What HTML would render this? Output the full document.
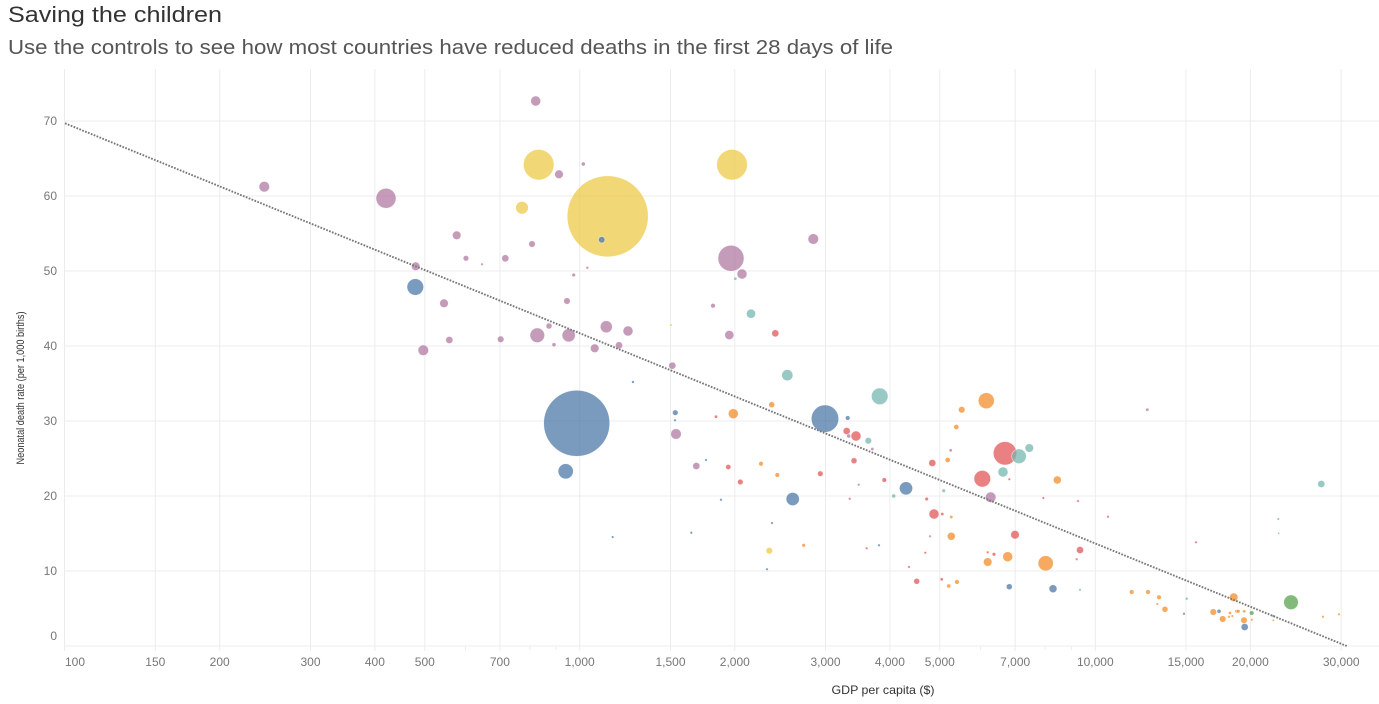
<!DOCTYPE html>
<html><head><meta charset="utf-8"><style>
html,body{margin:0;padding:0;background:#fff;}
svg{display:block;font-family:"Liberation Sans",Arial,sans-serif;}
</style></head><body>
<svg width="1379" height="704" viewBox="0 0 1379 704" xmlns="http://www.w3.org/2000/svg">
<rect width="1379" height="704" fill="#fff"/>
<text x="8" y="22" font-size="22" fill="#333" textLength="214" lengthAdjust="spacingAndGlyphs">Saving the children</text>
<text x="8" y="54" font-size="20" fill="#555" textLength="885" lengthAdjust="spacingAndGlyphs">Use the controls to see how most countries have reduced deaths in the first 28 days of life</text>
<g stroke="#ececec" stroke-width="1">
<line x1="64.5" y1="121" x2="1379" y2="121"/>
<line x1="64.5" y1="196" x2="1379" y2="196"/>
<line x1="64.5" y1="271" x2="1379" y2="271"/>
<line x1="64.5" y1="346" x2="1379" y2="346"/>
<line x1="64.5" y1="421" x2="1379" y2="421"/>
<line x1="64.5" y1="496" x2="1379" y2="496"/>
<line x1="64.5" y1="571" x2="1379" y2="571"/>
<line x1="64.5" y1="646" x2="1379" y2="646"/>
<line x1="64.5" y1="69" x2="64.5" y2="651"/>
<line x1="155.3" y1="69" x2="155.3" y2="651"/>
<line x1="219.7" y1="69" x2="219.7" y2="651"/>
<line x1="310.5" y1="69" x2="310.5" y2="651"/>
<line x1="374.9" y1="69" x2="374.9" y2="651"/>
<line x1="424.8" y1="69" x2="424.8" y2="651"/>
<line x1="499.9" y1="69" x2="499.9" y2="651"/>
<line x1="579.7" y1="69" x2="579.7" y2="651"/>
<line x1="670.5" y1="69" x2="670.5" y2="651"/>
<line x1="734.8" y1="69" x2="734.8" y2="651"/>
<line x1="825.5" y1="69" x2="825.5" y2="651"/>
<line x1="889.9" y1="69" x2="889.9" y2="651"/>
<line x1="939.8" y1="69" x2="939.8" y2="651"/>
<line x1="1015.2" y1="69" x2="1015.2" y2="651"/>
<line x1="1095.3" y1="69" x2="1095.3" y2="651"/>
<line x1="1186" y1="69" x2="1186" y2="651"/>
<line x1="1250.4" y1="69" x2="1250.4" y2="651"/>
<line x1="1341.2" y1="69" x2="1341.2" y2="651"/>
<line x1="465.5" y1="646" x2="465.5" y2="650"/>
<line x1="529.8" y1="646" x2="529.8" y2="650"/>
<line x1="556.2" y1="646" x2="556.2" y2="650"/>
<line x1="980.6" y1="646" x2="980.6" y2="650"/>
<line x1="1045" y1="646" x2="1045" y2="650"/>
<line x1="1071.3" y1="646" x2="1071.3" y2="650"/>
</g>
<g font-size="12" fill="#777" text-anchor="end">
<text x="57" y="125">70</text>
<text x="57" y="200">60</text>
<text x="57" y="275">50</text>
<text x="57" y="350">40</text>
<text x="57" y="425">30</text>
<text x="57" y="500">20</text>
<text x="57" y="575">10</text>
<text x="57" y="640">0</text>
</g>
<g font-size="12" fill="#777" text-anchor="middle">
<text x="75" y="666">100</text>
<text x="155.3" y="666">150</text>
<text x="219.7" y="666">200</text>
<text x="310.5" y="666">300</text>
<text x="374.9" y="666">400</text>
<text x="424.8" y="666">500</text>
<text x="499.9" y="666">700</text>
<text x="579.7" y="666">1,000</text>
<text x="670.5" y="666">1,500</text>
<text x="734.8" y="666">2,000</text>
<text x="825.5" y="666">3,000</text>
<text x="889.9" y="666">4,000</text>
<text x="939.8" y="666">5,000</text>
<text x="1015.2" y="666">7,000</text>
<text x="1095.3" y="666">10,000</text>
<text x="1186" y="666">15,000</text>
<text x="1250.4" y="666">20,000</text>
<text x="1341.2" y="666">30,000</text>
</g>
<text x="883" y="694" font-size="12" fill="#333" text-anchor="middle" textLength="103" lengthAdjust="spacingAndGlyphs">GDP per capita ($)</text>
<text transform="translate(24,388) rotate(-90)" font-size="11" fill="#333" text-anchor="middle" textLength="153" lengthAdjust="spacingAndGlyphs">Neonatal death rate (per 1,000 births)</text>

<g stroke="#fff" stroke-width="0.6" stroke-opacity="0.7" fill-opacity="0.75">
<circle cx="607.7" cy="216.3" r="40.5" fill="#EDC948"/>
<circle cx="576.7" cy="423.3" r="33" fill="#4E79A7"/>
<circle cx="538.7" cy="164.7" r="15.3" fill="#EDC948"/>
<circle cx="732" cy="164.7" r="15.3" fill="#EDC948"/>
<circle cx="825" cy="418.7" r="13.7" fill="#4E79A7"/>
<circle cx="731" cy="258.3" r="13" fill="#B07AA1"/>
<circle cx="1005" cy="453.3" r="11.7" fill="#E15759"/>
<circle cx="386" cy="198.3" r="10" fill="#B07AA1"/>
<circle cx="415.3" cy="287" r="8.3" fill="#4E79A7"/>
<circle cx="879.7" cy="396.3" r="8.3" fill="#76B7B2"/>
<circle cx="982.3" cy="478.7" r="8.3" fill="#E15759"/>
<circle cx="986.3" cy="400.7" r="8" fill="#F28E2B"/>
<circle cx="565.7" cy="471.3" r="7.6" fill="#4E79A7"/>
<circle cx="1045.7" cy="563.3" r="7.6" fill="#F28E2B"/>
<circle cx="537.3" cy="335.3" r="7.3" fill="#B07AA1"/>
<circle cx="1019" cy="456.3" r="7.3" fill="#76B7B2"/>
<circle cx="1291" cy="602.3" r="7.3" fill="#59A14F"/>
<circle cx="568.7" cy="335.3" r="6.6" fill="#B07AA1"/>
<circle cx="792.7" cy="499" r="6.6" fill="#4E79A7"/>
<circle cx="906" cy="488.3" r="6.6" fill="#4E79A7"/>
<circle cx="522" cy="207.7" r="6.3" fill="#EDC948"/>
<circle cx="606.3" cy="326.7" r="6" fill="#B07AA1"/>
<circle cx="264.3" cy="186.7" r="5.3" fill="#B07AA1"/>
<circle cx="423.3" cy="350.3" r="5.3" fill="#B07AA1"/>
<circle cx="813.3" cy="239" r="5.3" fill="#B07AA1"/>
<circle cx="676" cy="434" r="5.3" fill="#B07AA1"/>
<circle cx="990.7" cy="497.3" r="5.3" fill="#B07AA1"/>
<circle cx="787.3" cy="375.2" r="5.6" fill="#76B7B2"/>
<circle cx="535.7" cy="101" r="5" fill="#B07AA1"/>
<circle cx="742" cy="274" r="5" fill="#B07AA1"/>
<circle cx="628" cy="331" r="5" fill="#B07AA1"/>
<circle cx="733.3" cy="413.7" r="5" fill="#F28E2B"/>
<circle cx="856" cy="436" r="5" fill="#E15759"/>
<circle cx="934" cy="514" r="5" fill="#E15759"/>
<circle cx="1003" cy="472" r="5" fill="#76B7B2"/>
<circle cx="1007.7" cy="556.7" r="5" fill="#F28E2B"/>
<circle cx="751" cy="313.7" r="4.6" fill="#76B7B2"/>
<circle cx="729.3" cy="335" r="4.6" fill="#B07AA1"/>
<circle cx="456.7" cy="235.3" r="4.3" fill="#B07AA1"/>
<circle cx="415.7" cy="266.3" r="4.3" fill="#B07AA1"/>
<circle cx="444" cy="303.3" r="4.3" fill="#B07AA1"/>
<circle cx="559" cy="174.3" r="4.3" fill="#B07AA1"/>
<circle cx="594.7" cy="348.3" r="4.3" fill="#B07AA1"/>
<circle cx="1029.3" cy="448" r="4.3" fill="#76B7B2"/>
<circle cx="1015" cy="534.7" r="4.3" fill="#E15759"/>
<circle cx="987.7" cy="562" r="4.3" fill="#F28E2B"/>
<circle cx="1233.7" cy="597.3" r="4.3" fill="#F28E2B"/>
<circle cx="951.3" cy="536.3" r="4" fill="#F28E2B"/>
<circle cx="1057.3" cy="480" r="4" fill="#F28E2B"/>
<circle cx="1053" cy="588.7" r="4" fill="#4E79A7"/>
<circle cx="505.3" cy="258.3" r="3.6" fill="#B07AA1"/>
<circle cx="449.3" cy="340" r="3.6" fill="#B07AA1"/>
<circle cx="619" cy="345.3" r="3.6" fill="#B07AA1"/>
<circle cx="672.3" cy="365.7" r="3.6" fill="#B07AA1"/>
<circle cx="775.3" cy="333.3" r="3.6" fill="#E15759"/>
<circle cx="846.7" cy="431" r="3.6" fill="#E15759"/>
<circle cx="696.3" cy="466" r="3.6" fill="#B07AA1"/>
<circle cx="932.3" cy="463" r="3.6" fill="#E15759"/>
<circle cx="1080" cy="550" r="3.6" fill="#E15759"/>
<circle cx="1244.7" cy="627" r="3.6" fill="#4E79A7"/>
<circle cx="1321.3" cy="484" r="3.6" fill="#76B7B2"/>
<circle cx="500.7" cy="339.3" r="3.3" fill="#B07AA1"/>
<circle cx="601.7" cy="239.7" r="3.3" fill="#4E79A7"/>
<circle cx="532" cy="244" r="3.3" fill="#B07AA1"/>
<circle cx="567" cy="301" r="3.3" fill="#B07AA1"/>
<circle cx="868.3" cy="440.7" r="3.3" fill="#76B7B2"/>
<circle cx="769.3" cy="550.7" r="3.3" fill="#EDC948"/>
<circle cx="961.7" cy="409.7" r="3.3" fill="#F28E2B"/>
<circle cx="1213.3" cy="612" r="3.3" fill="#F28E2B"/>
<circle cx="1222.7" cy="619" r="3.3" fill="#F28E2B"/>
<circle cx="1244" cy="620.3" r="3.3" fill="#F28E2B"/>
<circle cx="549" cy="326" r="3" fill="#B07AA1"/>
<circle cx="854" cy="460.7" r="3" fill="#E15759"/>
<circle cx="771.7" cy="404.7" r="3" fill="#F28E2B"/>
<circle cx="916.7" cy="581.3" r="3" fill="#E15759"/>
<circle cx="1009.3" cy="586.7" r="3" fill="#4E79A7"/>
<circle cx="1165" cy="609.3" r="3" fill="#F28E2B"/>
<circle cx="466" cy="258.3" r="2.8" fill="#B07AA1"/>
<circle cx="675.3" cy="412.7" r="2.8" fill="#4E79A7"/>
<circle cx="740.3" cy="482" r="2.8" fill="#E15759"/>
<circle cx="820.3" cy="473.7" r="2.8" fill="#E15759"/>
<circle cx="728.3" cy="467" r="2.6" fill="#E15759"/>
<circle cx="947.7" cy="460" r="2.6" fill="#F28E2B"/>
<circle cx="956.3" cy="427" r="2.6" fill="#F28E2B"/>
<circle cx="713" cy="305.7" r="2.3" fill="#B07AA1"/>
<circle cx="847.7" cy="418" r="2.3" fill="#4E79A7"/>
<circle cx="761" cy="463.7" r="2.3" fill="#F28E2B"/>
<circle cx="777.3" cy="475" r="2.3" fill="#F28E2B"/>
<circle cx="884.3" cy="480" r="2.3" fill="#E15759"/>
<circle cx="957" cy="582" r="2.3" fill="#F28E2B"/>
<circle cx="1131.7" cy="592" r="2.3" fill="#F28E2B"/>
<circle cx="1148" cy="592" r="2.3" fill="#F28E2B"/>
<circle cx="1159" cy="597.3" r="2.3" fill="#F28E2B"/>
<circle cx="1251.7" cy="613" r="2.3" fill="#59A14F"/>
<circle cx="583.3" cy="164" r="2" fill="#B07AA1"/>
<circle cx="554" cy="344.7" r="2" fill="#B07AA1"/>
<circle cx="848.7" cy="436" r="2" fill="#B07AA1"/>
<circle cx="893.7" cy="496" r="2" fill="#76B7B2"/>
<circle cx="948.7" cy="586" r="2" fill="#F28E2B"/>
<circle cx="1219" cy="611.3" r="2" fill="#4E79A7"/>
<circle cx="573.7" cy="275" r="1.8" fill="#B07AA1"/>
<circle cx="803.7" cy="545.3" r="1.8" fill="#F28E2B"/>
<circle cx="943.7" cy="490.7" r="1.8" fill="#76B7B2"/>
<circle cx="926.7" cy="499" r="1.8" fill="#E15759"/>
<circle cx="994" cy="554.3" r="1.8" fill="#E15759"/>
<circle cx="1236.7" cy="611.3" r="1.8" fill="#F28E2B"/>
<circle cx="1238.3" cy="611.3" r="1.8" fill="#F28E2B"/>
<circle cx="735.3" cy="278.7" r="1.6" fill="#76B7B2"/>
<circle cx="716" cy="416.7" r="1.6" fill="#E15759"/>
<circle cx="872.3" cy="449" r="1.6" fill="#B07AA1"/>
<circle cx="950.7" cy="450.3" r="1.6" fill="#B07AA1"/>
<circle cx="942.3" cy="514" r="1.6" fill="#E15759"/>
<circle cx="951.3" cy="517" r="1.6" fill="#F28E2B"/>
<circle cx="941.7" cy="579.3" r="1.6" fill="#E15759"/>
<circle cx="1147.3" cy="409.7" r="1.6" fill="#B07AA1"/>
<circle cx="1230" cy="613" r="1.6" fill="#F28E2B"/>
<circle cx="1244.3" cy="611.3" r="1.6" fill="#F28E2B"/>
<circle cx="1186.7" cy="598.7" r="1.5" fill="#76B7B2"/>
<circle cx="587.3" cy="267.7" r="1.4" fill="#B07AA1"/>
<circle cx="633" cy="382" r="1.4" fill="#4E79A7"/>
<circle cx="482" cy="264.3" r="1.3" fill="#B07AA1"/>
<circle cx="671" cy="325" r="1.3" fill="#EDC948"/>
<circle cx="675" cy="420.3" r="1.3" fill="#4E79A7"/>
<circle cx="706" cy="460" r="1.3" fill="#4E79A7"/>
<circle cx="721" cy="499.7" r="1.3" fill="#4E79A7"/>
<circle cx="612.7" cy="537" r="1.3" fill="#4E79A7"/>
<circle cx="691.3" cy="532.7" r="1.3" fill="#4E79A7"/>
<circle cx="772" cy="523" r="1.3" fill="#4E79A7"/>
<circle cx="767" cy="569.3" r="1.3" fill="#4E79A7"/>
<circle cx="858.7" cy="484.7" r="1.3" fill="#B07AA1"/>
<circle cx="849.7" cy="498.7" r="1.3" fill="#E15759"/>
<circle cx="930" cy="536.3" r="1.3" fill="#B07AA1"/>
<circle cx="866.7" cy="548.3" r="1.3" fill="#E15759"/>
<circle cx="879" cy="545.3" r="1.3" fill="#4E79A7"/>
<circle cx="925.3" cy="552.7" r="1.3" fill="#E15759"/>
<circle cx="909" cy="567" r="1.3" fill="#E15759"/>
<circle cx="1009.3" cy="479.3" r="1.3" fill="#E15759"/>
<circle cx="1043.3" cy="498" r="1.3" fill="#E15759"/>
<circle cx="1078" cy="501" r="1.3" fill="#E15759"/>
<circle cx="1108" cy="516.7" r="1.3" fill="#E15759"/>
<circle cx="1076.7" cy="559.3" r="1.3" fill="#E15759"/>
<circle cx="987.7" cy="552.3" r="1.3" fill="#E15759"/>
<circle cx="1196" cy="542.3" r="1.3" fill="#E15759"/>
<circle cx="1080" cy="589.7" r="1.3" fill="#76B7B2"/>
<circle cx="1157.3" cy="604" r="1.3" fill="#F28E2B"/>
<circle cx="1184" cy="613.7" r="1.3" fill="#4E79A7"/>
<circle cx="1232.3" cy="616" r="1.3" fill="#F28E2B"/>
<circle cx="1229" cy="616.7" r="1.3" fill="#F28E2B"/>
<circle cx="1251.7" cy="619.7" r="1.3" fill="#F28E2B"/>
<circle cx="1273.3" cy="616" r="1.3" fill="#4E79A7"/>
<circle cx="1273.3" cy="620.3" r="1.1" fill="#F28E2B"/>
<circle cx="1323" cy="616.7" r="1.3" fill="#F28E2B"/>
<circle cx="1339" cy="614.3" r="1.3" fill="#F28E2B"/>
<circle cx="1278.3" cy="519" r="1.3" fill="#76B7B2"/>
<circle cx="1278.7" cy="533.3" r="1.1" fill="#76B7B2"/>
</g>
<line x1="65" y1="123.3" x2="1346.7" y2="646" stroke="#777" stroke-width="1.9" stroke-dasharray="1.7,1.4"/>
</svg>
</body></html>
